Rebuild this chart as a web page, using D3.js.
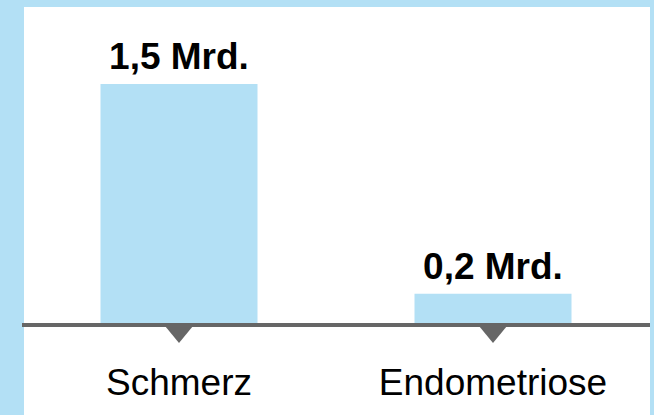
<!DOCTYPE html>
<html>
<head>
<meta charset="utf-8">
<script src="https://cdn.jsdelivr.net/npm/d3@7"></script>
<style>
  html, body { margin: 0; padding: 0; background: #b3e0f5; }
  svg { display: block; }
</style>
</head>
<body>
<svg id="chart" width="654" height="415"></svg>
<script>
// Kosten in Milliarden
const categories = ["Schmerz", "Endometriose"];
const values = [1.5, 0.2];
const valueLabels = ["1,5 Mrd.", "0,2 Mrd."];

const W = 654, H = 415;
const blue = "#b3e0f5";
const grey = "#666666";
const baseY = 326;

const svg = d3.select("#chart");

// light blue frame with white panel
svg.append("rect").attr("width", W).attr("height", H).attr("fill", blue);
svg.append("rect").attr("x", 24).attr("y", 7).attr("width", 626).attr("height", H - 7).attr("fill", "#fff");

const x = d3.scaleBand()
  .domain(categories)
  .range([22, 650])
  .paddingInner(0.5)
  .paddingOuter(0.25);

const y = d3.scaleLinear()
  .domain([0, 1.5])
  .range([baseY, 84]);

// bars
svg.selectAll("rect.bar")
  .data(values)
  .join("rect")
  .attr("class", "bar")
  .attr("x", (d, i) => x(categories[i]))
  .attr("y", d => y(d))
  .attr("width", x.bandwidth())
  .attr("height", d => y(0) - y(d))
  .attr("fill", blue);

// value labels
svg.selectAll("text.val")
  .data(values)
  .join("text")
  .attr("class", "val")
  .attr("x", (d, i) => x(categories[i]) + x.bandwidth() / 2)
  .attr("y", d => y(d) - 15)
  .attr("text-anchor", "middle")
  .attr("font-family", "'Liberation Sans', Arial, sans-serif")
  .attr("font-weight", "bold")
  .attr("font-size", 37)
  .attr("fill", "#000")
  .text((d, i) => valueLabels[i]);

// axis line
const axis = d3.axisBottom(x).tickSize(0).tickPadding(44);
const g = svg.append("g").attr("transform", `translate(0,${baseY - 1})`).call(axis);
g.select(".domain").attr("stroke", grey).attr("stroke-width", 4).attr("d", `M22,0H650`);
g.selectAll(".tick text")
  .attr("font-family", "'Liberation Sans', Arial, sans-serif")
  .attr("font-size", 37)
  .attr("fill", "#000");

// triangular markers under each bar
g.selectAll(".tick").append("path")
  .attr("d", "M-14,1L14,1L0,18Z")
  .attr("fill", grey);
</script>
</body>
</html>
